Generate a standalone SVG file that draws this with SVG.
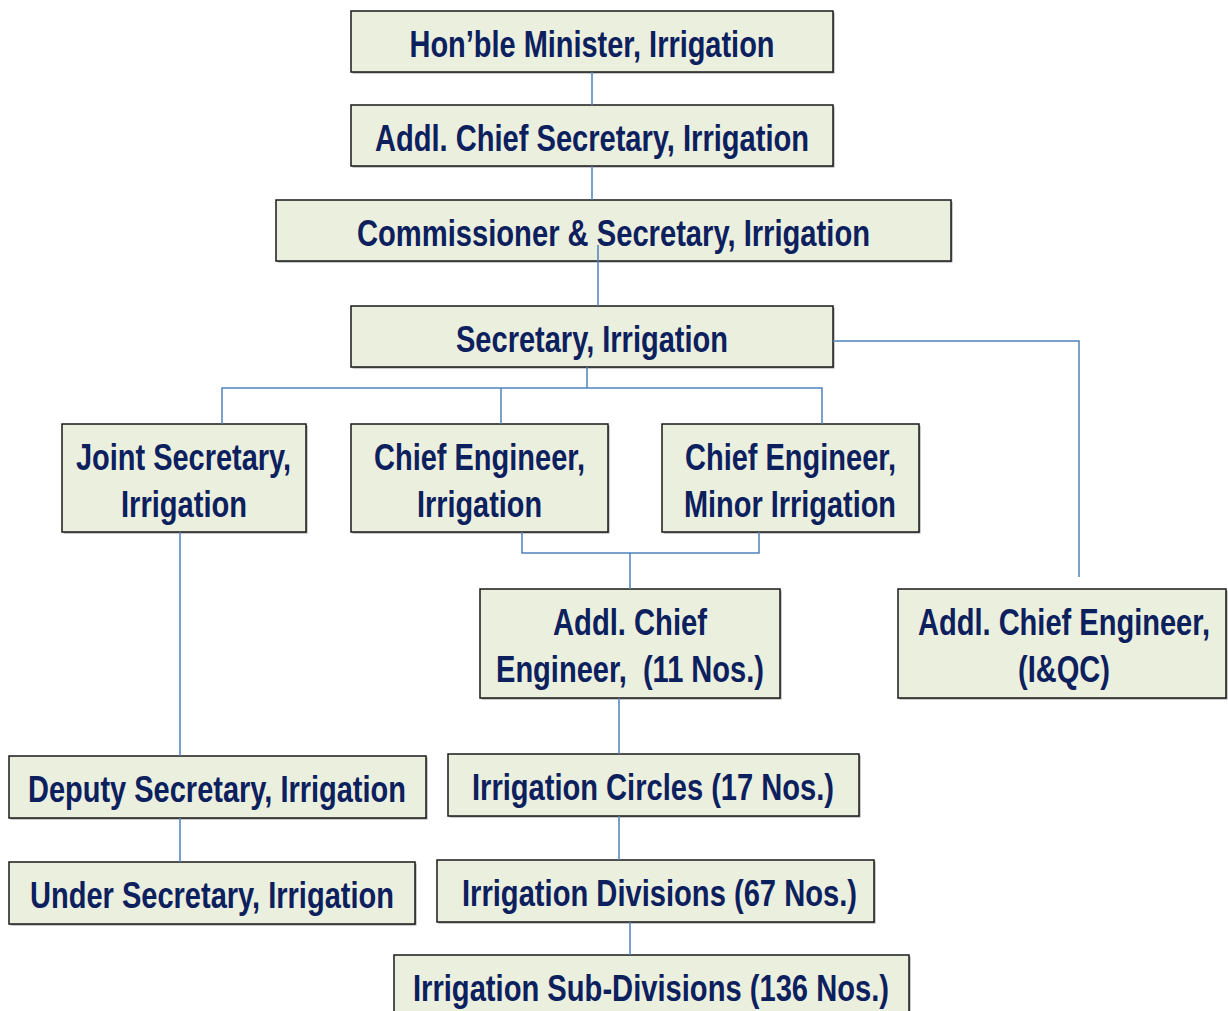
<svg xmlns="http://www.w3.org/2000/svg" width="1228" height="1011" viewBox="0 0 1228 1011">
<defs>
<style>
.box{fill:#ebefde;stroke:#1a1a1a;stroke-width:1.5}
.sh{fill:#9a9a9a}
.t{font-family:"Liberation Sans Narrow","Arial Narrow","Liberation Sans",Arial,sans-serif;font-stretch:condensed;font-weight:bold;font-size:37px;fill:#0c205e;text-anchor:middle}
.c{fill:none;stroke:#4f81bd;stroke-width:1.5}
</style>
</defs>
<rect width="1228" height="1011" fill="#ffffff"/>
<g id="n1"><rect class="sh" x="352.5" y="12.5" width="482" height="61"/><rect class="box" x="351" y="11" width="482" height="61"/><text class="t" x="592" y="57" textLength="365" lengthAdjust="spacingAndGlyphs">Hon’ble Minister, Irrigation</text></g>
<g id="n2"><rect class="sh" x="352.5" y="106.5" width="482" height="61"/><rect class="box" x="351" y="105" width="482" height="61"/><text class="t" x="592" y="151" textLength="434" lengthAdjust="spacingAndGlyphs">Addl. Chief Secretary, Irrigation</text></g>
<g id="n3"><rect class="sh" x="277.5" y="201.5" width="675" height="61"/><rect class="box" x="276" y="200" width="675" height="61"/><text class="t" x="613.5" y="246" textLength="513" lengthAdjust="spacingAndGlyphs">Commissioner &amp; Secretary, Irrigation</text></g>
<g id="n4"><rect class="sh" x="352.5" y="307.5" width="482" height="61"/><rect class="box" x="351" y="306" width="482" height="61"/><text class="t" x="592" y="352" textLength="272" lengthAdjust="spacingAndGlyphs">Secretary, Irrigation</text></g>
<g id="n5"><rect class="sh" x="63.5" y="425.5" width="244" height="108"/><rect class="box" x="62" y="424" width="244" height="108"/><text class="t" x="183.5" y="470" textLength="215" lengthAdjust="spacingAndGlyphs">Joint Secretary,</text><text class="t" x="184" y="517" textLength="126" lengthAdjust="spacingAndGlyphs">Irrigation</text></g>
<g id="n6"><rect class="sh" x="352.5" y="425.5" width="257" height="108"/><rect class="box" x="351" y="424" width="257" height="108"/><text class="t" x="479.5" y="470" textLength="211" lengthAdjust="spacingAndGlyphs">Chief Engineer,</text><text class="t" x="479.5" y="517" textLength="125" lengthAdjust="spacingAndGlyphs">Irrigation</text></g>
<g id="n7"><rect class="sh" x="663.5" y="425.5" width="257" height="108"/><rect class="box" x="662" y="424" width="257" height="108"/><text class="t" x="790.5" y="470" textLength="211" lengthAdjust="spacingAndGlyphs">Chief Engineer,</text><text class="t" x="790" y="517" textLength="212" lengthAdjust="spacingAndGlyphs">Minor Irrigation</text></g>
<g id="n8"><rect class="sh" x="481.5" y="590.5" width="300" height="109"/><rect class="box" x="480" y="589" width="300" height="109"/><text class="t" x="630" y="635" textLength="154" lengthAdjust="spacingAndGlyphs">Addl. Chief</text><text class="t" x="630" y="682" textLength="268" lengthAdjust="spacingAndGlyphs" xml:space="preserve">Engineer,  (11 Nos.)</text></g>
<g id="n9"><rect class="sh" x="899.5" y="590.5" width="328" height="109"/><rect class="box" x="898" y="589" width="328" height="109"/><text class="t" x="1064" y="635" textLength="292" lengthAdjust="spacingAndGlyphs">Addl. Chief Engineer,</text><text class="t" x="1064" y="682" textLength="92" lengthAdjust="spacingAndGlyphs">(I&amp;QC)</text></g>
<g id="n10"><rect class="sh" x="10.5" y="757.5" width="417" height="62"/><rect class="box" x="9" y="756" width="417" height="62"/><text class="t" x="217" y="802" textLength="378" lengthAdjust="spacingAndGlyphs">Deputy Secretary, Irrigation</text></g>
<g id="n11"><rect class="sh" x="10.5" y="863.5" width="406" height="62"/><rect class="box" x="9" y="862" width="406" height="62"/><text class="t" x="212" y="908" textLength="364" lengthAdjust="spacingAndGlyphs">Under Secretary, Irrigation</text></g>
<g id="n12"><rect class="sh" x="449.5" y="755.5" width="411" height="62"/><rect class="box" x="448" y="754" width="411" height="62"/><text class="t" x="653" y="800" textLength="362" lengthAdjust="spacingAndGlyphs">Irrigation Circles (17 Nos.)</text></g>
<g id="n13"><rect class="sh" x="438.5" y="861.5" width="437" height="62"/><rect class="box" x="437" y="860" width="437" height="62"/><text class="t" x="659.5" y="906" textLength="395" lengthAdjust="spacingAndGlyphs">Irrigation Divisions (67 Nos.)</text></g>
<g id="n14"><rect class="sh" x="395.5" y="956.5" width="515" height="70"/><rect class="box" x="394" y="955" width="515" height="70"/><text class="t" x="651" y="1001" textLength="476" lengthAdjust="spacingAndGlyphs">Irrigation Sub-Divisions (136 Nos.)</text></g>
<g id="connectors">
<path class="c" d="M592 72V105"/>
<path class="c" d="M592 166V200"/>
<path class="c" d="M598 245V306"/>
<path class="c" d="M587 367V388M222 424V388H822V424M501 388V424"/>
<path class="c" d="M833 341H1079V577"/>
<path class="c" d="M180 532V756"/>
<path class="c" d="M180 818V862"/>
<path class="c" d="M522 532V553H759V532M630 553V589"/>
<path class="c" d="M619 698V754"/>
<path class="c" d="M619 816V860"/>
<path class="c" d="M630 922V955"/>
</g>
</svg>
